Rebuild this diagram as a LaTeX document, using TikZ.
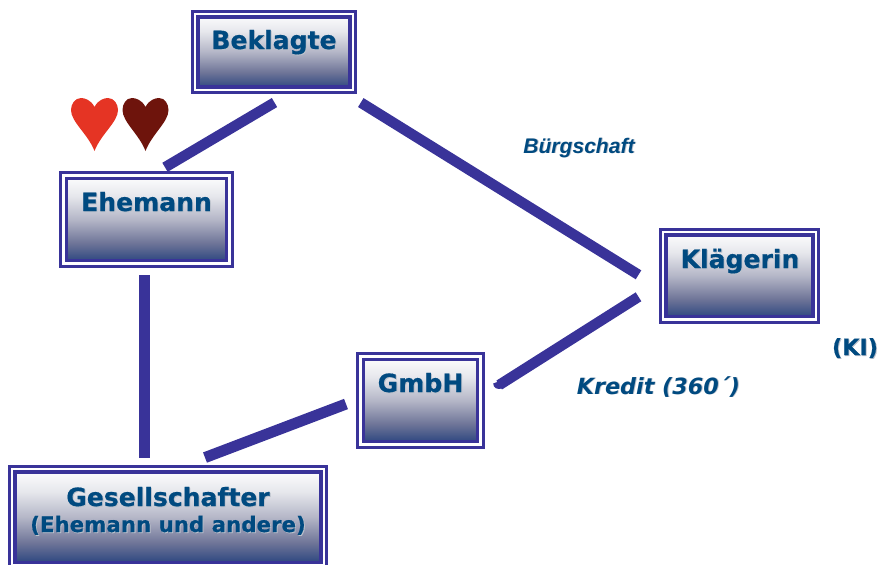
\documentclass[tikz,border=0pt]{standalone}
\usepackage{fontspec}
\newfontfamily\vdfont{DejaVu Sans}[BoldFeatures={FakeBold=0.6}]
\newfontfamily\arfont{Liberation Sans}
\definecolor{linkblue}{HTML}{393399}
\definecolor{textblue}{HTML}{004A80}
\definecolor{shadowgray}{HTML}{BCC2CC}
\definecolor{lowblue}{HTML}{223F7C}
\definecolor{shadeA}{HTML}{6F7598}
\definecolor{shadeB}{HTML}{B4B6C7}
\definecolor{shadeC}{HTML}{E6E7EC}
\definecolor{heartred}{HTML}{E53424}
\definecolor{heartdark}{HTML}{6E140C}
\pgfdeclareverticalshading{boxshade}{100bp}{color(0bp)=(lowblue);color(26bp)=(lowblue);color(37.5bp)=(shadeA);color(50bp)=(shadeB);color(62.5bp)=(shadeC);color(74bp)=(white);color(100bp)=(white)}
\newcommand{\shtext}[1]{\rlap{\kern0.7pt\raisebox{-0.7pt}{\textcolor{shadowgray}{#1}}}#1}
\tikzset{
  x=0.75pt,y=-0.75pt,
  boxnode/.style 2 args={draw=linkblue,fill=white,line width=2.3pt,outer sep=0pt,inner sep=0pt,
    rectangle,minimum width=#1*0.75pt,minimum height=#2*0.75pt,
    path picture={
      \draw[line width=2.8pt,draw=linkblue,shade,shading=boxshade]
        ([shift={(5.6,5.6)}]path picture bounding box.north west) rectangle
        ([shift={(-5.6,-5.6)}]path picture bounding box.south east);
    }},
  link/.style={draw=linkblue,line width=#1*0.75pt},
  link/.default=10.5,
  boxlabel/.style={text=textblue,anchor=base,inner sep=0pt},
  edgelabel/.style={text=textblue,anchor=base,inner sep=0pt},
}
\newcommand{\bigbox}{\vdfont\bfseries\fontsize{18.8pt}{22pt}\selectfont}
\begin{document}
\begin{tikzpicture}
\clip (0,0) rectangle (880,564);
\node[boxnode={163.6}{81.4}] (bek) at (274,51.85) {};
\node[boxnode={171.4}{93.4}] (ehe) at (146.5,219.5) {};
\node[boxnode={158.4}{92.8}] (kla) at (739.7,275.8) {};
\node[boxnode={125.4}{93.4}] (gmb) at (420.5,400.5) {};
\node[boxnode={317.2}{101.5}] (ges) at (168,517.3) {};

\node[boxlabel,font=\bigbox] (tbek) at (274,49) {\shtext{Beklagte}};
\node[boxlabel,font=\bigbox] (tehe) at (146.5,211) {\shtext{Ehemann}};
\node[boxlabel,font=\bigbox] (tkla) at (740,268) {\shtext{Klägerin}};
\node[boxlabel,font=\bigbox] (tgmb) at (420.5,392) {\shtext{GmbH}};
\node[boxlabel,font=\bigbox] (tges) at (168,506) {\shtext{Gesellschafter}};
\node[boxlabel,font=\vdfont\bfseries\fontsize{16pt}{19pt}\selectfont] (tges2) at (168,532) {\shtext{(Ehemann und andere)}};

\node[edgelabel,font=\arfont\bfseries\itshape\fontsize{15.8pt}{18pt}\selectfont] (bur) at (579,153) {\shtext{Bürgschaft}};
\node[edgelabel,font=\vdfont\bfseries\itshape\fontsize{16.7pt}{19pt}\selectfont] (kre) at (658.5,394) {\shtext{Kredit (360´)}};
\node[edgelabel,font=\vdfont\bfseries\fontsize{16.7pt}{19pt}\selectfont] (ki) at (855,355) {\shtext{(KI)}};

\draw[link] ([shift={(0.5,10)}]bek.south) -- ([shift={(18.5,-5.5)}]ehe.north);
\draw[link] ([shift={(5,10)}]bek.south east) -- ([shift={(-22,-1)}]kla.west);
\draw[link] ([shift={(-22,21)}]kla.west) -- ([shift={(16,-15.5)}]gmb.east) coordinate (hook);
\fill[linkblue] ([shift={(2,-4.5)}]hook) -- ([shift={(-6,-1.5)}]hook) .. controls ([shift={(-6,3)}]hook) and ([shift={(-2,5)}]hook) .. ([shift={(3,3.5)}]hook) -- cycle;
\draw[link=11] ([shift={(-2.5,9)}]ehe.south) -- ([shift={(-24,-9)}]ges.north);
\draw[link=11] ([shift={(-74.5,3.5)}]gmb.center) -- ([shift={(37,-9)}]ges.north);

\fill[heartred] (94.5,107) .. controls (98,100) and (104,98) .. (108,98)
  .. controls (114,98) and (118,104) .. (118,110)
  .. controls (118,122) and (101,134) .. (94.5,151)
  .. controls (88,134) and (71,122) .. (71,110)
  .. controls (71,104) and (75,98) .. (81,98)
  .. controls (85,98) and (91,100) .. (94.5,107) -- cycle;
\fill[heartdark] (145.5,107) .. controls (149,100) and (155,98) .. (159,98)
  .. controls (165,98) and (168.5,104) .. (168.5,110)
  .. controls (168.5,122) and (152,134) .. (145.5,151)
  .. controls (139,134) and (122.5,122) .. (122.5,110)
  .. controls (122.5,104) and (126,98) .. (132,98)
  .. controls (136,98) and (142,100) .. (145.5,107) -- cycle;
\end{tikzpicture}
\end{document}
